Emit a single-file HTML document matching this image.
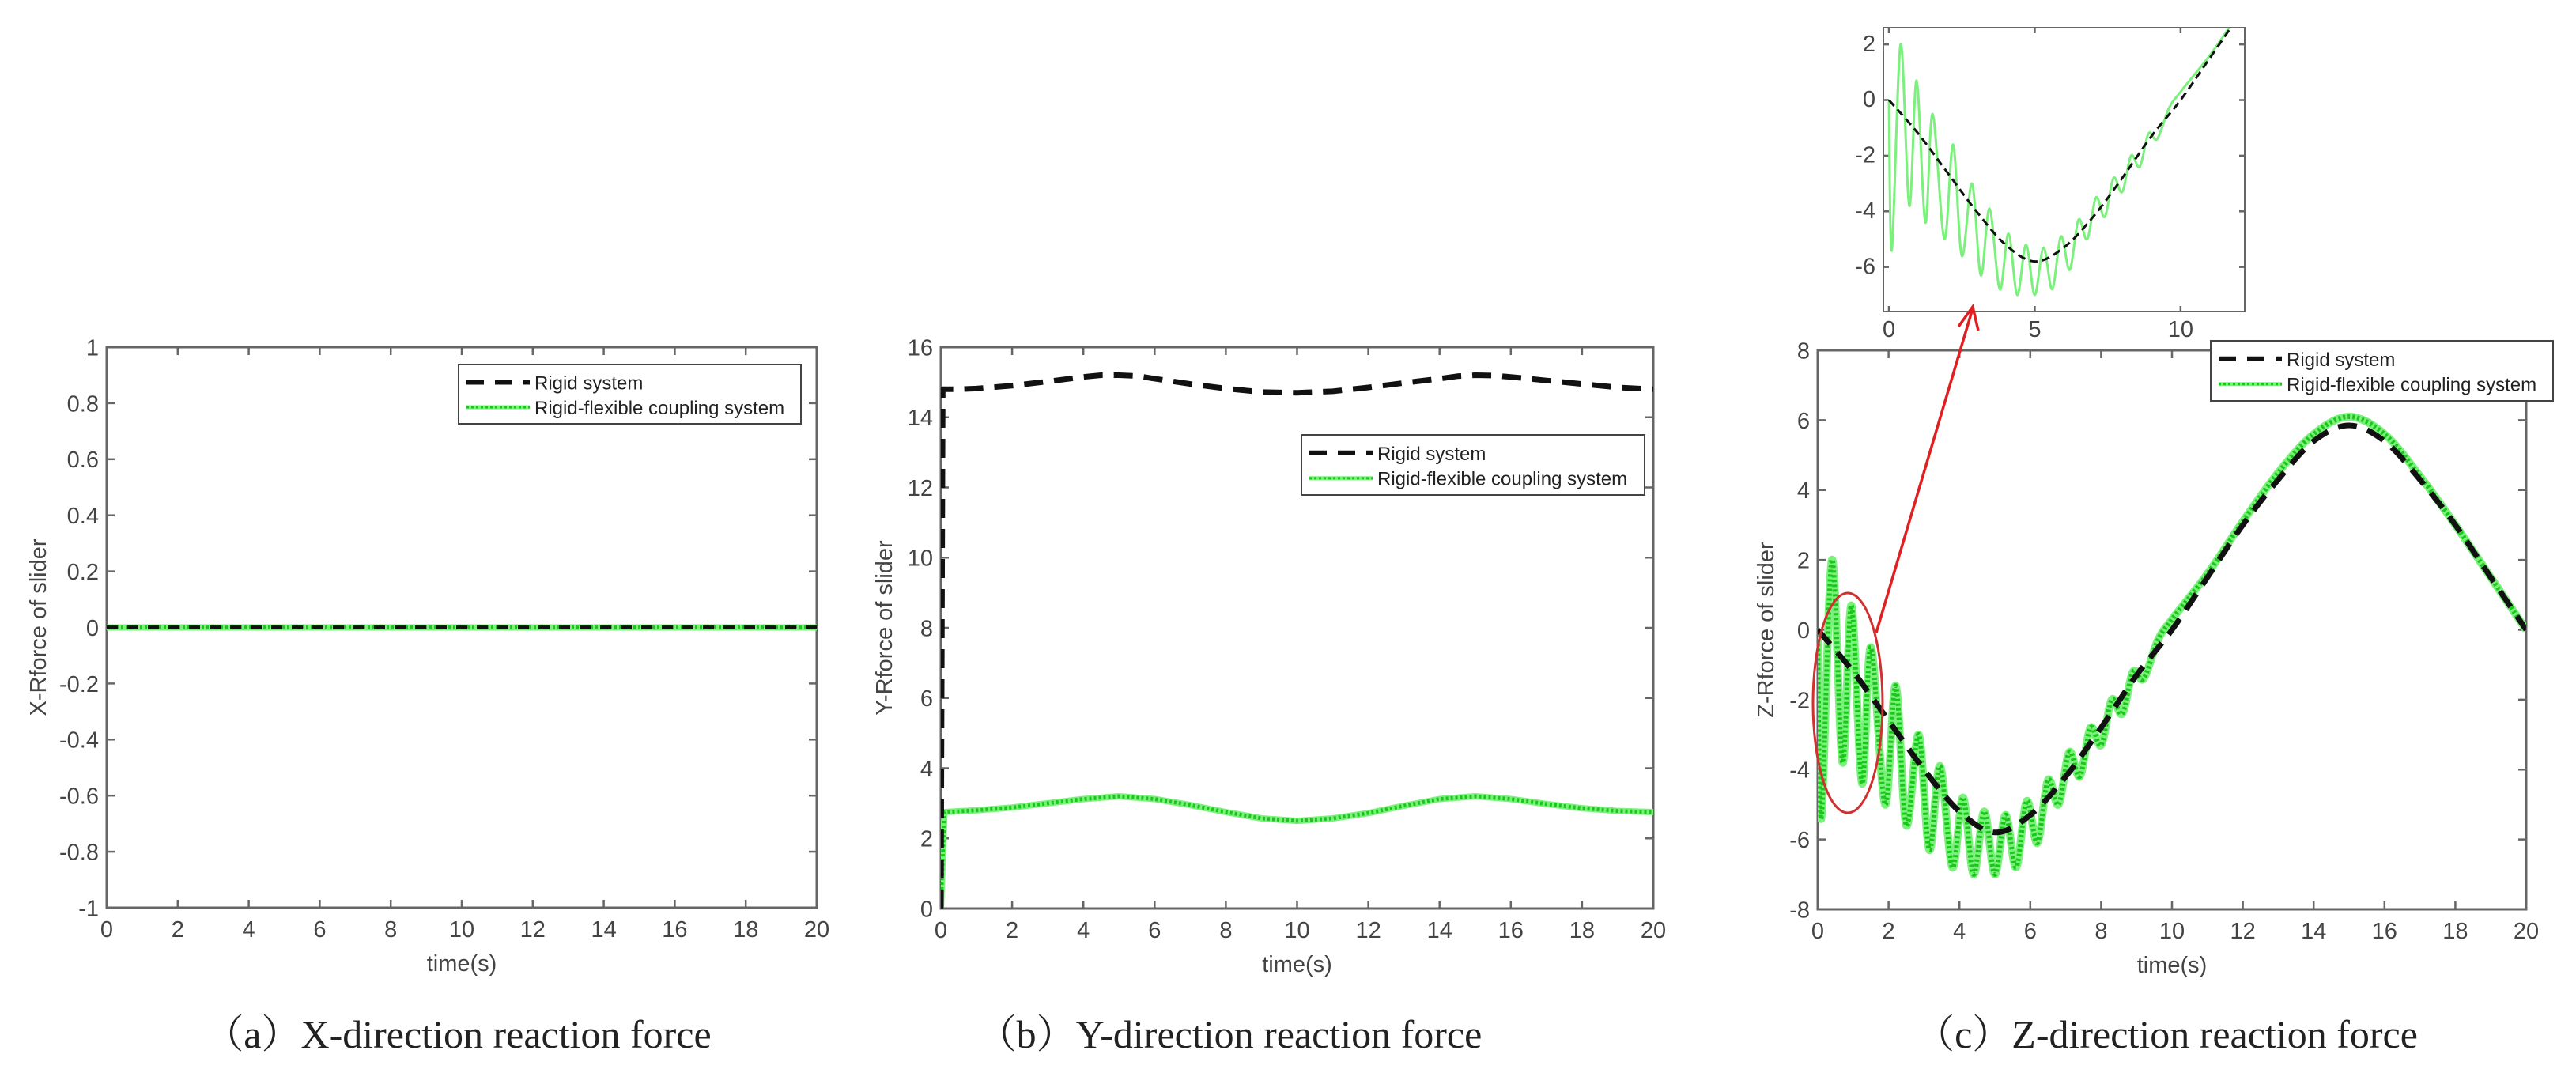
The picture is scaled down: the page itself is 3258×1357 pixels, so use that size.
<!DOCTYPE html>
<html><head><meta charset="utf-8"><style>
body{margin:0;background:#fff;}
svg{display:block;font-family:"Liberation Sans",sans-serif;}
.cap{font-family:"Liberation Serif","Noto Serif CJK SC",serif;font-size:50px;fill:#222;}
.tk{font-size:29px;fill:#444;}
.lab{font-size:29px;fill:#444;}
.lg{font-size:24px;fill:#222;}
</style></head><body>
<svg id="fig" width="3258" height="1357" viewBox="0 0 3258 1357"></svg>
<script>
// ---- data ----
const xTicks = [0,2,4,6,8,10,12,14,16,18,20];
const aYTicks = [-1,-0.8,-0.6,-0.4,-0.2,0,0.2,0.4,0.6,0.8,1];
const aYLabels = ["-1","-0.8","-0.6","-0.4","-0.2","0","0.2","0.4","0.6","0.8","1"];
const aRigidT = [0,20];
const aRigidV = [0,0];
const aFlexT = [0,20];
const aFlexV = [0,0];

const bYTicks = [0,2,4,6,8,10,12,14,16];
const bRigidT = [0,0.05,0.5,1,2,3,4,4.5,5,5.5,6,7,8,9,10,11,12,13,14,14.5,15,15.5,16,17,18,19,20];
const bRigidV = [0,14.8,14.8,14.82,14.9,15.02,15.15,15.2,15.2,15.18,15.1,14.95,14.82,14.72,14.7,14.74,14.85,14.98,15.1,15.17,15.2,15.19,15.15,15.05,14.95,14.85,14.8];
const bFlexT = [0,0.1,1,2,3,4,5,6,7,8,9,10,11,12,13,14,15,16,17,18,19,20];
const bFlexV = [0,2.75,2.8,2.88,3.0,3.12,3.2,3.12,2.95,2.75,2.57,2.5,2.57,2.72,2.93,3.12,3.2,3.12,2.98,2.86,2.78,2.75];

const cYTicks = [-8,-6,-4,-2,0,2,4,6,8];
const cRigidT = [0,1,2,3,4,5,6,7,8,9,10,11,12,13,14,15,16,17,18,19,20];
const cRigidV = [0,-1.2,-2.6,-4,-5.2,-5.8,-5.3,-4.2,-2.8,-1.3,0,1.5,3,4.3,5.4,5.85,5.4,4.3,3,1.5,0];
const cFlexT = [0,0.1,0.4,0.7,0.95,1.25,1.5,1.9,2.2,2.5,2.85,3.15,3.45,3.8,4.1,4.4,4.7,5.0,5.3,5.6,5.9,6.2,6.5,6.8,7.1,7.4,7.7,8.0,8.3,8.6,8.9,9.2,9.6,10,11,12,13,14,15,16,17,18,19,20];
const cFlexV = [0,-5.4,2.0,-3.8,0.7,-4.4,-0.5,-5.0,-1.6,-5.6,-3.0,-6.3,-3.9,-6.8,-4.8,-7.0,-5.2,-7.0,-5.3,-6.8,-4.9,-6.1,-4.3,-5.0,-3.5,-4.2,-2.8,-3.3,-2.0,-2.4,-1.2,-1.4,-0.3,0.3,1.6,3.1,4.5,5.6,6.1,5.6,4.4,3.0,1.5,0];
const insetXTicks = [0,5,10];
const insetYTicks = [-6,-4,-2,0,2];

const NS="http://www.w3.org/2000/svg";
const svg=document.getElementById('fig');
function el(tag,attrs,parent){const e=document.createElementNS(NS,tag);for(const k in attrs)e.setAttribute(k,attrs[k]);(parent||svg).appendChild(e);return e;}
function scale(d0,d1,r0,r1){return v=>r0+(v-d0)/(d1-d0)*(r1-r0);}
function pathD(T,V,sx,sy){return T.map((t,i)=>(i?'L':'M')+sx(t).toFixed(1)+','+sy(V[i]).toFixed(1)).join('');}
function smoothD(T,V,sx,sy){const P=T.map((t,i)=>[sx(t),sy(V[i])]);let d='M'+P[0][0]+','+P[0][1];
 for(let i=0;i<P.length-1;i++){const p0=P[Math.max(i-1,0)],p1=P[i],p2=P[i+1],p3=P[Math.min(i+2,P.length-1)];
 const c1=[p1[0]+(p2[0]-p0[0])/6,p1[1]+(p2[1]-p0[1])/6],c2=[p2[0]-(p3[0]-p1[0])/6,p2[1]-(p3[1]-p1[1])/6];
 d+='C'+c1[0].toFixed(1)+','+c1[1].toFixed(1)+' '+c2[0].toFixed(1)+','+c2[1].toFixed(1)+' '+p2[0].toFixed(1)+','+p2[1].toFixed(1);}return d;}

function panel(o){
 const g=el('g',{});
 
 
 const sx=scale(o.x0,o.x1,o.L,o.R), sy=scale(o.y0,o.y1,o.B,o.T);
 const clipId='clip'+o.name;
 const cp=el('clipPath',{id:clipId},g);el('rect',{x:o.L,y:o.T,width:o.R-o.L,height:o.B-o.T},cp);
 const ax=el('rect',{x:o.L,y:o.T,width:o.R-o.L,height:o.B-o.T,fill:'#fff',stroke:'#666','stroke-width':o.sw||3},g);
 
 
 o.xt.forEach((t,i)=>{const x=sx(t);
  el('line',{x1:x,x2:x,y1:o.B,y2:o.B-o.tl,stroke:'#666','stroke-width':2.5},g);
  el('line',{x1:x,x2:x,y1:o.T,y2:o.T+o.tl,stroke:'#666','stroke-width':2.5},g);
  const tx=el('text',{x:x,y:o.B+o.tf+8,'text-anchor':'middle',class:'tk','font-size':o.tf},g);
  tx.textContent=o.xl?o.xl[i]:String(t);
  
  });
 o.yt.forEach((v,i)=>{const y=sy(v);
  el('line',{x1:o.L,x2:o.L+o.tl,y1:y,y2:y,stroke:'#666','stroke-width':2.5},g);
  el('line',{x1:o.R,x2:o.R-o.tl,y1:y,y2:y,stroke:'#666','stroke-width':2.5},g);
  const ty=el('text',{x:o.L-10,y:y+o.tf*0.36,'text-anchor':'end',class:'tk','font-size':o.tf},g);
  ty.textContent=o.yl?o.yl[i]:String(v);
  
  });
 const cg=el('g',{'clip-path':'url(#'+clipId+')'},g);
 const fd=(o.smoothF?smoothD:pathD)(o.fT,o.fV,sx,sy);
 const f=el('path',{d:fd,fill:'none',stroke:'#7cf07c','stroke-width':o.fw,'stroke-linejoin':'round'},cg);
 
 
 if(o.dots){const f2=el('path',{d:fd,fill:'none',stroke:'#18c818','stroke-width':o.fw*0.6,'stroke-dasharray':'3 3'},cg);
  
  }
 const r=el('path',{d:(o.smoothR?smoothD:pathD)(o.rT,o.rV,sx,sy),fill:'none',stroke:'#111','stroke-width':o.rw,'stroke-dasharray':o.rdash,'stroke-linejoin':'round'},cg);
 
 
 if(o.xlabel){const t=el('text',{x:(o.L+o.R)/2,y:o.B+80,'text-anchor':'middle',class:'lab'},g);t.textContent=o.xlabel;
  
  }
 if(o.ylabel){const t=el('text',{x:0,y:0,'text-anchor':'middle',class:'lab',transform:'translate('+o.ylx+','+(o.T+o.B)/2+') rotate(-90)'},g);t.textContent=o.ylabel;
  
  }
 if(o.leg){const [lx,ly,lw,lh]=o.leg;const lg=el('g',{},g);
  
  
  el('rect',{x:lx,y:ly,width:lw,height:lh,fill:'#fff',stroke:'#444','stroke-width':2},lg);
  el('line',{x1:lx+10,x2:lx+90,y1:ly+lh*0.3,y2:ly+lh*0.3,stroke:'#111','stroke-width':6,'stroke-dasharray':'22 14'},lg);
  el('line',{x1:lx+10,x2:lx+90,y1:ly+lh*0.72,y2:ly+lh*0.72,stroke:'#7cf07c','stroke-width':5},lg);
  el('line',{x1:lx+10,x2:lx+90,y1:ly+lh*0.72,y2:ly+lh*0.72,stroke:'#18c818','stroke-width':3,'stroke-dasharray':'3 3'},lg);
  const t1=el('text',{x:lx+96,y:ly+lh*0.3+9,class:'lg'},lg);t1.textContent='Rigid system';
  
  
  const t2=el('text',{x:lx+96,y:ly+lh*0.72+9,class:'lg'},lg);t2.textContent='Rigid-flexible coupling system';
  
  }
 return {sx,sy};
}
panel({name:'panel-a',L:135,R:1033,T:439,B:1148,x0:0,x1:20,y0:-1,y1:1,xt:xTicks,yt:aYTicks,yl:aYLabels,tl:10,tf:29,
 rT:aRigidT,rV:aRigidV,fT:aFlexT,fV:aFlexV,rw:5,fw:8,rdash:'14 12',dots:true,xlabel:'time(s)',ylabel:'X-Rforce of slider',ylx:58,leg:[580,461,433,75]});
panel({name:'panel-b',L:1190,R:2091,T:439,B:1149,x0:0,x1:20,y0:0,y1:16,xt:xTicks,yt:bYTicks,tl:10,tf:29,
 rT:bRigidT,rV:bRigidV,fT:bFlexT,fV:bFlexV,rw:7,fw:8,rdash:'24 14',dots:true,xlabel:'time(s)',ylabel:'Y-Rforce of slider',ylx:1128,leg:[1646,550,434,76]});
panel({name:'panel-c',L:2299,R:3195,T:443,B:1150,x0:0,x1:20,y0:-8,y1:8,xt:xTicks,yt:cYTicks,tl:10,tf:29,
 rT:cRigidT,rV:cRigidV,fT:cFlexT,fV:cFlexV,rw:7,fw:10,rdash:'24 14',dots:true,smoothR:true,smoothF:true,xlabel:'time(s)',ylabel:'Z-Rforce of slider',ylx:2243,leg:[2796,431,433,76]});
panel({name:'inset-zoom',L:2382,R:2839,T:35,B:394,x0:-0.19,x1:12.2,y0:-7.6,y1:2.6,xt:insetXTicks,yt:insetYTicks,tl:7,tf:24,sw:2,
 rT:cRigidT,rV:cRigidV,fT:cFlexT,fV:cFlexV,rw:3,fw:3,rdash:'10 6',dots:false,smoothR:true,smoothF:true});
const ell=el('ellipse',{cx:2337,cy:889,rx:44,ry:139,fill:'none',stroke:'#d03030','stroke-width':3});


const arr=el('g',{});


el('line',{x1:2373,y1:800,x2:2495,y2:390,stroke:'#e02020','stroke-width':3.5},arr);
el('path',{d:'M2477,413 L2495,388 L2502,418',fill:'none',stroke:'#e02020','stroke-width':3.5},arr);
[['（a）X-direction reaction force',579],['（b）Y-direction reaction force',1555],['（c）Z-direction reaction force',2740]].forEach(c=>{
 const t=el('text',{x:c[1],y:1325,'text-anchor':'middle',class:'cap'});t.textContent=c[0];
 
 });
</script>
</body></html>
